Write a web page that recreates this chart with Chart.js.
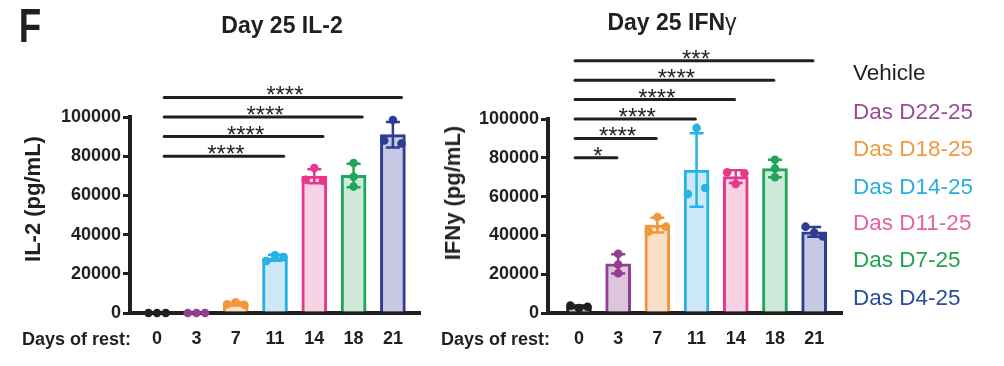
<!DOCTYPE html>
<html><head><meta charset="utf-8">
<script src="https://cdn.jsdelivr.net/npm/chart.js@4.4.1/dist/chart.umd.min.js"></script>
<style>
html,body{margin:0;padding:0;background:#fff;}
#wrap{position:relative;width:1004px;height:366px;overflow:hidden;font-family:'Liberation Sans',Arial,Helvetica,sans-serif;color:#231f20;}
canvas{position:absolute;left:0;top:0;}
.t{position:absolute;white-space:nowrap;line-height:1;}
</style></head><body>
<div id="wrap">
<canvas id="c1" width="1004" height="366"></canvas>
<canvas id="c2" width="1004" height="366"></canvas>
</div>
<script>
// ---------- data ----------
const days = ['0', '3', '7', '11', '14', '18', '21'];
const groups = ['Vehicle', 'Das D22-25', 'Das D18-25', 'Das D14-25', 'Das D11-25', 'Das D7-25', 'Das D4-25'];
const il2Bars = [0, 0, 4700, 28200, 69800, 70200, 91000];
const il2Sd = [0, 0, 700, 1500, 3600, 6000, 6500];
const il2Points = [[0, 0, 0], [0, 0, 0], [4500, 5500, 4200], [26500, 29500, 28500], [74000, 68000, 67500], [76500, 69500, 64500], [98500, 88000, 86500]];
const ifnBars = [3200, 25300, 45300, 73700, 70300, 74500, 41800];
const ifnSd = [650, 5000, 3800, 18900, 3300, 4500, 2500];
const ifnPoints = [[3800, 2500, 3200], [30500, 25000, 20500], [49500, 42000, 44500], [95400, 61300, 64400], [72500, 72000, 66500], [79000, 74500, 70000], [44500, 41500, 39500]];
const il2Sig = [[0, 3, '****'], [0, 4, '****'], [0, 5, '****'], [0, 6, '****']];
const ifnSig = [[0, 1, '*'], [0, 2, '****'], [0, 3, '****'], [0, 4, '****'], [0, 5, '****'], [0, 6, '***']];
const yTicks = [0, 20000, 40000, 60000, 80000, 100000];
const xLabelPrefix = 'Days of rest:';
const titles = ['Day 25 IL-2', 'Day 25 IFN'];
const yTitles = ['IL-2 (pg/mL)', 'IFNy (pg/mL)'];

// ---------- styles ----------
const colors = ['#231f20', '#933e91', '#f2953b', '#27b2e6', '#e8388e', '#1fa65a', '#2e3c93'];
const fills = ['#c4c4c4', '#dcc6de', '#fbe0c8', '#cde9f9', '#f8d3e4', '#cfeadb', '#c7c8e4'];
const legendColors = ['#231f20', '#9a4a99', '#f09a40', '#2aaedf', '#e662a5', '#1fa350', '#2b4c9b'];
const INK = '#231f20';
const FONT = "'Liberation Sans', Arial, Helvetica, sans-serif";

// spread overlapping replicate dots sideways (like a scatter-dot column)
function jitter(vals, thr) {
  const order = vals.map((v, i) => i).sort((a, b) => vals[b] - vals[a]);
  const clusters = [];
  order.forEach(i => {
    const last = clusters[clusters.length - 1];
    if (last && Math.abs(vals[last[last.length - 1]] - vals[i]) < thr) last.push(i);
    else clusters.push([i]);
  });
  const offs = new Array(vals.length).fill(0);
  const pat = {1: [0], 2: [-0.22, 0.22], 3: [-0.22, 0, 0.22]};
  clusters.forEach(cl => {
    const idx = cl.slice().sort((a, b) => a - b);
    const p = pat[idx.length] || idx.map((_, k) => (k - (idx.length - 1) / 2) * 0.22);
    idx.forEach((i, k) => { offs[i] = p[k]; });
  });
  return offs;
}

const errorBars = {
  id: 'errorBars',
  afterDatasetDraw(chart, args) {
    if (args.meta.type !== 'bar') return;
    const y = chart.scales.y, ctx = chart.ctx;
    const sd = chart.options.plugins.errorBars.sd;
    const bars = chart.options.plugins.errorBars.bars;
    args.meta.data.forEach((el, i) => {
      if (!sd[i]) return;
      const t = y.getPixelForValue(bars[i] + sd[i]);
      const b = y.getPixelForValue(bars[i] - sd[i]);
      ctx.save();
      ctx.strokeStyle = colors[i];
      ctx.lineWidth = 2.5;
      ctx.beginPath();
      ctx.moveTo(el.x, t); ctx.lineTo(el.x, b);
      ctx.moveTo(el.x - 7, t); ctx.lineTo(el.x + 7, t);
      ctx.moveTo(el.x - 7, b); ctx.lineTo(el.x + 7, b);
      ctx.stroke();
      ctx.restore();
    });
  }
};

const stars = {
  id: 'stars',
  afterDatasetsDraw(chart) {
    const o = chart.options.plugins.stars;
    const x = chart.scales.x, y = chart.scales.y, ctx = chart.ctx;
    ctx.save();
    ctx.fillStyle = INK;
    ctx.font = '24px ' + FONT;
    ctx.textAlign = 'center';
    ctx.textBaseline = 'alphabetic';
    o.sig.forEach((s, k) => {
      const level = o.base + o.step * k;
      const x0 = x.getPixelForValue(s[0] + o.start);
      const x1 = x.getPixelForValue(s[1] + o.end);
      ctx.fillText(s[2], (x0 + x1) / 2 + 2, y.getPixelForValue(level) + 6);
    });
    ctx.restore();
  }
};

function build(id, c) {
  const thr = 4000;
  const pts = [], pc = [];
  c.pts.forEach((arr, i) => {
    const offs = jitter(arr, thr);
    arr.forEach((v, j) => { pts.push({x: i + offs[j], y: v}); pc.push(colors[i]); });
  });
  const datasets = [{
    type: 'bar',
    data: c.bars.map((v, i) => ({x: i, y: v})),
    backgroundColor: fills, borderColor: colors, borderWidth: 3,
    barThickness: 25, order: 3
  }];
  c.sig.forEach((s, k) => {
    const level = 80000 + 10000 * k;
    datasets.push({
      type: 'line',
      data: [{x: s[0] + c.start, y: level}, {x: s[1] + c.end, y: level}],
      borderColor: INK, borderWidth: 3, pointRadius: 0, clip: false, order: 2,
      borderCapStyle: 'round'
    });
  });
  datasets.push({
    type: 'scatter', data: pts, pointBackgroundColor: pc, pointBorderWidth: 0,
    pointRadius: 4.3, clip: false, order: 1
  });
  return new Chart(document.getElementById(id), {
    type: 'bar',
    data: {datasets},
    plugins: [errorBars, stars],
    options: {
      responsive: false, animation: false, devicePixelRatio: 1,
      layout: {padding: c.pad},
      plugins: {
        legend: {display: false}, tooltip: {enabled: false},
        errorBars: {sd: c.sd, bars: c.bars},
        stars: {sig: c.sig, base: 80000, step: 10000, start: c.start, end: c.end}
      },
      scales: {
        x: {
          type: 'linear', min: c.xMin, max: c.xMax, offset: false,
          afterBuildTicks: s => { s.ticks = days.map((d, i) => ({value: i})); },
          afterFit: s => { s.height = 40; },
          ticks: {callback: (v, i) => days[i], font: {family: FONT, size: 18, weight: 'bold'}, color: INK, padding: 15, autoSkip: false, maxRotation: 0},
          grid: {display: false, drawTicks: false, offset: false},
          border: {display: true, color: INK, width: 4}
        },
        y: {
          min: 0, max: 100000,
          afterBuildTicks: s => { s.ticks = yTicks.map(v => ({value: v})); },
          afterFit: s => { s.width = 130; },
          ticks: {callback: v => String(v), font: {family: FONT, size: 18, weight: 'bold'}, color: INK, padding: 2},
          grid: {drawOnChartArea: false, drawTicks: true, tickLength: 7, color: INK, lineWidth: 3},
          border: {display: true, color: INK, width: 4}
        }
      }
    }
  });
}

build('c1', {bars: il2Bars, sd: il2Sd, pts: il2Points, sig: il2Sig, xMin: -0.69, xMax: 6.69,
  pad: {left: 0, right: 584, top: 117, bottom: 13}, start: 0.18, end: 0.22});
build('c2', {bars: ifnBars, sd: ifnSd, pts: ifnPoints, sig: ifnSig, xMin: -0.79, xMax: 6.71,
  pad: {left: 418, right: 162, top: 119, bottom: 13}, start: -0.1, end: -0.03});

// ---------- text ----------
const wrap = document.getElementById('wrap');
function txt(s, css) {
  const d = document.createElement('div');
  d.className = 't';
  d.style.cssText = css;
  d.textContent = s;
  wrap.appendChild(d);
  return d;
}
txt('F', 'left:30px;top:25px;font-size:49px;font-weight:bold;transform:translate(-50%,-50%) scaleX(0.75);');
txt(titles[0], 'left:282px;top:25px;font-size:23px;font-weight:bold;transform:translate(-50%,-50%);');
const t2 = txt(titles[1], 'left:672px;top:22px;font-size:23px;font-weight:bold;transform:translate(-50%,-50%);');
const g = document.createElement('span'); g.textContent = 'γ'; g.style.fontWeight = 'normal'; t2.appendChild(g);
txt(yTitles[0], 'left:32.5px;top:199px;font-size:22px;font-weight:bold;transform:translate(-50%,-50%) rotate(-90deg);');
txt(yTitles[1], 'left:452.5px;top:193px;font-size:22px;font-weight:bold;transform:translate(-50%,-50%) rotate(-90deg);');
txt(xLabelPrefix, 'left:22px;top:338.5px;font-size:18px;font-weight:bold;transform:translateY(-50%);');
txt(xLabelPrefix, 'left:441px;top:338.5px;font-size:18px;font-weight:bold;transform:translateY(-50%);');
const legY = [73, 111.5, 148.5, 186.5, 223, 260, 297.5];
groups.forEach((gname, i) => {
  txt(gname, 'left:853px;top:' + legY[i] + 'px;font-size:22.5px;color:' + legendColors[i] + ';transform:translateY(-50%);');
});
</script>
</body></html>
